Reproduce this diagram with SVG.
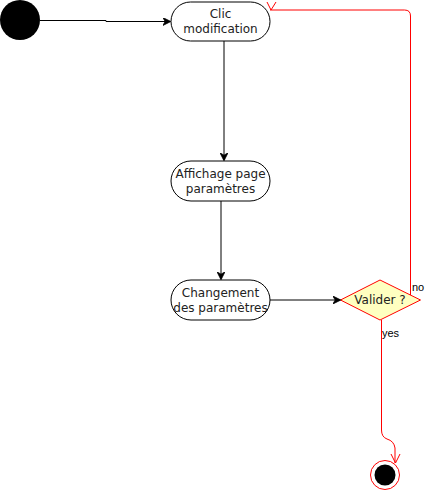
<svg xmlns="http://www.w3.org/2000/svg" width="425" height="491" viewBox="0 0 425 491">
<defs>
<marker id="blk" viewBox="0 0 10 10" refX="9" refY="5" markerWidth="8" markerHeight="8" markerUnits="userSpaceOnUse" orient="auto">
<path d="M0,0 L10,5 L0,10 L3,5 Z" fill="#000" stroke="#000" stroke-width="1"/>
</marker>
</defs>
<style>
.n{fill:#fff;stroke:#000;stroke-width:1}
.t{font-family:"DejaVu Sans",Verdana,sans-serif;font-size:12px;fill:#222;text-anchor:middle}
.l{font-family:"Liberation Sans",Arial,sans-serif;font-size:11px;fill:#000}
.e{fill:none;stroke:#000;stroke-width:1}
.r{fill:none;stroke:#ff0000;stroke-width:1}
</style>
<g id="start"><circle cx="20" cy="20" r="20" fill="#000"/></g>
<g id="clic"><rect class="n" x="171" y="2" width="99" height="39" rx="19.5" ry="19.5"/><text class="t" x="220.5" y="18">Clic</text><text class="t" x="220.5" y="33">modification</text></g>
<g id="affichage"><rect class="n" x="171" y="161" width="99" height="40" rx="20" ry="20"/><text class="t" x="220.5" y="178">Affichage page</text><text class="t" x="220.5" y="193">paramètres</text></g>
<g id="changement"><rect class="n" x="171" y="280" width="99" height="40" rx="20" ry="20"/><text class="t" x="220.5" y="297">Changement</text><text class="t" x="220.5" y="312">des paramètres</text></g>
<g id="valider"><path d="M380,280 L420.5,300 L380,320 L340.5,300 Z" fill="#ffffc0" stroke="#ff0000" stroke-width="1"/><text class="t" x="380" y="304">Valider ?</text></g>
<g id="end"><circle cx="385" cy="475" r="14.5" fill="#fff" stroke="#ff0000" stroke-width="1"/><circle cx="385" cy="475" r="10.5" fill="#000"/></g>
<g id="connectors">
<path class="e" d="M40,20.5 H106 V21.5 H170" marker-end="url(#blk)"/>
<path class="e" d="M224,41 V160" marker-end="url(#blk)"/>
<path class="e" d="M221,201 V279" marker-end="url(#blk)"/>
<path class="e" d="M270,300 H340" marker-end="url(#blk)"/>
<path class="r" d="M410.5,295 V16 Q410.5,10 404.5,10 H270"/>
<polyline class="r" points="267,2 271,10 276,2"/>
<text class="l" x="412" y="291">no</text>
<path class="r" d="M381.5,320 V430 Q381.5,437 387,439 Q394,441 395,448 V463"/>
<polyline class="r" points="391,454 395.5,463 400,454"/>
<text class="l" x="382" y="337">yes</text>
</g>
</svg>
